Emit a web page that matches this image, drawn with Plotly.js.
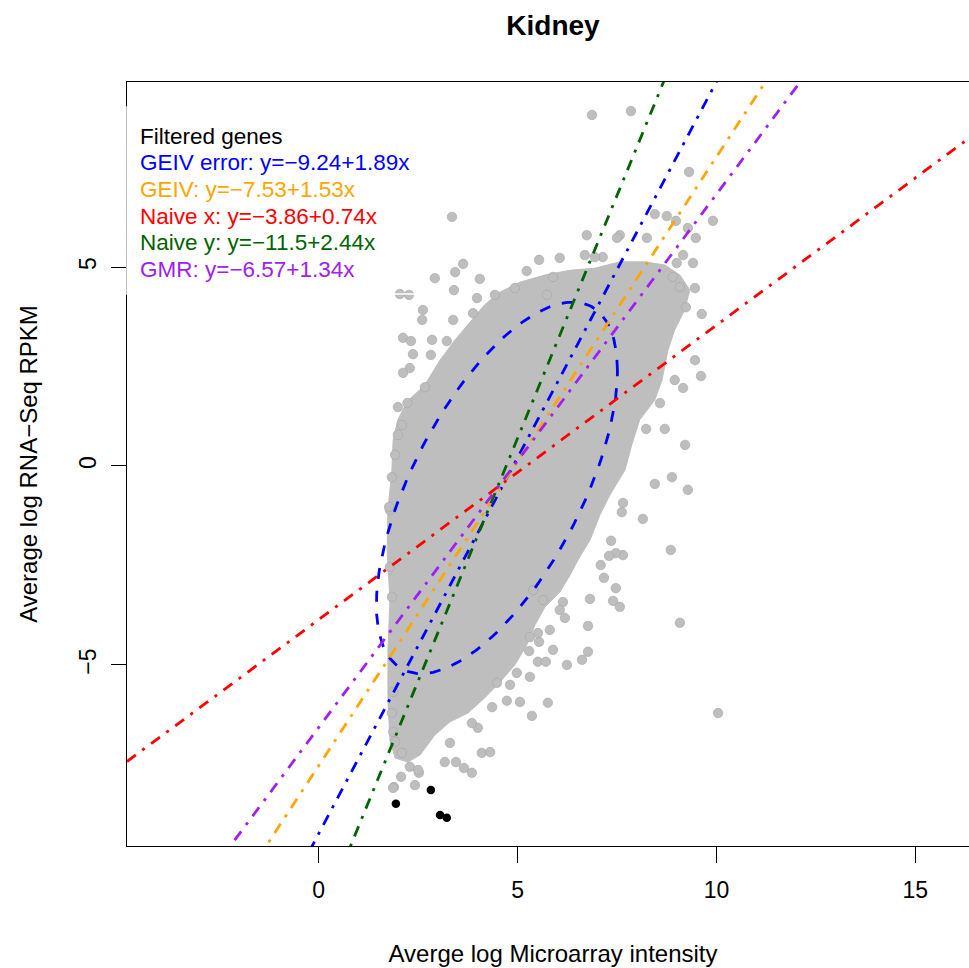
<!DOCTYPE html>
<html>
<head>
<meta charset="utf-8">
<script src="https://cdn.plot.ly/plotly-3.0.1.min.js"></script>
<style>
html,body{margin:0;padding:0;overflow:hidden;background:#fff;}
#chart{width:1000px;height:968px;}
</style>
</head>
<body>
<div id="chart"></div>
<script>
// ---- Data ----
const chartTitle = "Kidney";
const xTitle = "Averge log Microarray intensity";
const yTitle = "Average log RNA\u2212Seq RPKM";
const xTickVals = [0, 5, 10, 15];
const yTickVals = [-5, 0, 5];
const xRange = [-4.82, 16.6];
const yRange = [-9.55, 9.65];

// regression fits: y = intercept + slope * x
const legendHeader = "Filtered genes";
const fitNames = ["GEIV error", "GEIV", "Naive x", "Naive y", "GMR"];
const fitIntercepts = [-9.24, -7.53, -3.86, -11.5, -6.57];
const fitSlopes = [1.89, 1.53, 0.74, 2.44, 1.34];

// ellipse (blue dashed): centre, half-extents along x / y, correlation
const ellipseCenter = [4.48, -0.55];
const ellipseHalfX = 3.03;
const ellipseHalfY = 4.67;
const ellipseRho = 0.63;

// dense core of the gene cloud (outline)
const coreX = [2.67,3.05,3.43,3.80,4.17,4.56,5.06,5.69,6.32,6.94,7.57,8.20,8.70,9.08,9.33,9.20,8.95,8.78,8.63,8.45,8.07,7.87,7.70,7.32,7.07,6.82,6.52,6.32,6.06,5.69,5.44,5.23,4.93,4.56,4.17,3.75,3.30,2.92,2.55,2.24,1.92,1.79,1.74,1.74,1.79,1.72,1.74,1.84,1.87,1.99,2.24];
const coreY = [2.04,2.66,3.17,3.62,4.05,4.37,4.62,4.80,4.92,4.97,5.13,5.13,5.05,4.80,4.42,3.92,3.42,2.91,2.16,1.66,1.16,0.53,-0.10,-0.73,-1.23,-1.86,-2.36,-2.74,-3.17,-3.54,-3.99,-4.50,-5.00,-5.43,-5.83,-6.21,-6.43,-6.76,-7.26,-7.44,-7.34,-6.88,-5.88,-4.62,-3.37,-2.11,-1.11,-0.10,0.65,1.16,1.66];

// individual genes around the cloud (grey)
const geneX = [6.87,7.85,3.35,9.31,8.45,8.75,8.98,9.91,9.28,9.48,8.25,7.57,6.74,7.14,9.00,9.41,8.90,9.08,9.46,9.23,9.63,9.46,9.61,8.95,9.16,8.58,8.23,8.70,9.21,8.88,8.45,9.28,8.15,8.85,7.62,7.65,7.35,7.65,7.47,7.30,7.09,7.17,7.47,6.82,7.40,7.57,6.77,9.08,6.77,6.62,10.04,6.24,5.89,5.54,5.29,5.51,5.71,5.31,4.81,4.36,4.73,5.06,5.76,5.36,4.00,3.85,3.30,4.10,4.31,3.17,3.45,3.65,3.85,2.52,2.42,2.07,1.89,6.06,5.54,5.23,3.63,3.43,2.92,4.05,3.40,2.04,2.27,2.62,2.60,3.38,3.98,4.93,5.89,2.12,2.32,2.85,3.22,2.82,2.37,2.29,2.12,1.99,2.09,1.92,1.79,1.87,1.84,1.87,1.92,1.87,4.48,4.98,6.69,6.94,9.16,7.50,3.88,4.43,5.74,1.77,1.79,1.84,1.99,1.84,5.39,5.64,6.14,6.06,6.19,5.81,5.51,5.31,2.09,2.29,2.50,2.23,2.67];
const geneY = [8.82,8.92,6.26,7.39,6.33,6.28,6.16,6.16,5.98,5.73,5.73,5.80,5.80,5.25,5.10,5.10,4.75,4.50,4.47,3.99,3.82,2.66,2.26,2.16,1.96,1.58,0.93,0.93,0.53,-0.28,-0.45,-0.60,-1.33,-2.11,-1.16,-0.93,-1.88,-2.24,-2.19,-2.26,-2.49,-2.81,-3.07,-3.34,-3.39,-3.54,-4.02,-3.94,-4.67,-4.87,-6.21,-5.00,-4.62,-4.42,-4.65,-4.92,-4.92,-5.30,-5.50,-6.06,-5.90,-5.93,-5.95,-6.28,-6.58,-6.46,-6.96,-7.21,-7.19,-7.44,-7.44,-7.59,-7.71,-7.71,-8.02,-7.81,-8.07,5.23,5.18,4.90,5.08,4.87,4.72,4.70,4.42,4.32,4.30,3.92,3.67,3.67,4.22,4.47,4.75,3.22,3.14,3.17,3.14,2.79,2.81,2.46,2.34,1.48,1.03,0.28,-1.11,-5.68,-6.21,-6.68,-6.93,-8.09,-5.45,-5.20,5.30,5.25,5.30,5.73,3.84,4.30,4.30,-1.03,-2.54,-3.29,0.78,-0.28,-3.12,-3.37,-3.42,-3.62,-3.82,-4.12,-4.20,-4.30,-7.21,-7.56,-7.64,1.58,1.98];

// highlighted genes (black)
const blackX = [1.94, 2.82, 3.05, 3.22];
const blackY = [-8.49, -8.14, -8.77, -8.84];

// ---- Styles ----
const fitColors = ["#0000FF", "#FFA500", "#FF0000", "#006400", "#A020F0"];
const FONT = "Liberation Sans, Arial, Helvetica, sans-serif";
const dotDash = "11px,8px,3px,8px";

const traces = [];
traces.push({
  x: coreX, y: coreY, type: "scatter", mode: "lines", fill: "toself",
  fillcolor: "#BEBEBE", line: {color: "#BEBEBE", width: 1},
  hoverinfo: "skip", showlegend: false
});
traces.push({
  x: geneX, y: geneY, type: "scatter", mode: "markers",
  marker: {size: 9.5, color: "#BEBEBE", line: {color: "#A4A4A4", width: 0.6}},
  showlegend: false
});
// ellipse
const ex = [], ey = [];
for (let i = 0; i <= 180; i++) {
  const t = 2 * Math.PI * i / 180;
  ex.push(ellipseCenter[0] + ellipseHalfX * Math.cos(t));
  ey.push(ellipseCenter[1] + ellipseHalfY * (ellipseRho * Math.cos(t) + Math.sqrt(1 - ellipseRho * ellipseRho) * Math.sin(t)));
}
traces.push({
  x: ex, y: ey, type: "scatter", mode: "lines",
  line: {color: "#0000FF", width: 2.8, dash: "11px,12px"},
  showlegend: false, hoverinfo: "skip"
});
// fit lines
for (let i = 0; i < fitNames.length; i++) {
  traces.push({
    x: [xRange[0], xRange[1]],
    y: [fitIntercepts[i] + fitSlopes[i] * xRange[0], fitIntercepts[i] + fitSlopes[i] * xRange[1]],
    type: "scatter", mode: "lines", name: fitNames[i],
    line: {color: fitColors[i], width: 2.8, dash: dotDash},
    showlegend: false
  });
}
traces.push({
  x: blackX, y: blackY, type: "scatter", mode: "markers",
  marker: {size: 8.5, color: "#000000"}, showlegend: false
});

// text legend
const fmt = v => String(v).replace("-", "\u2212");
const legendLines = [{text: legendHeader, color: "#000000"}];
for (let i = 0; i < fitNames.length; i++) {
  legendLines.push({text: fitNames[i] + ": y=" + fmt(fitIntercepts[i]) + "+" + fmt(fitSlopes[i]) + "x", color: fitColors[i]});
}
const plotTop = 82, plotH = 764, plotL = 127, plotW = 852;
const annotations = legendLines.map((l, i) => ({
  xref: "paper", yref: "paper",
  x: (138 - plotL) / plotW, y: (plotTop + plotH - (136 + 26.7 * i)) / plotH,
  xanchor: "left", yanchor: "middle", showarrow: false,
  text: l.text, font: {family: FONT, size: 22.5, color: l.color}
}));

const layout = {
  width: 1000, height: 968,
  margin: {l: plotL, r: 1000 - plotL - plotW, t: plotTop, b: 968 - plotTop - plotH},
  paper_bgcolor: "#fff", plot_bgcolor: "#fff",
  font: {family: FONT, color: "#000"},
  title: {text: "<b>" + chartTitle + "</b>", font: {family: FONT, size: 28, color: "#000"},
          x: 0.5, xref: "paper", xanchor: "center", y: 1 - 25 / 968, yref: "container", yanchor: "middle"},
  xaxis: {
    range: xRange, tickvals: xTickVals, ticktext: xTickVals.map(fmt),
    ticks: "outside", ticklen: 16, tickwidth: 1, tickcolor: "#000",
    showline: true, mirror: true, linecolor: "#000", linewidth: 1,
    showgrid: false, zeroline: false, tickfont: {family: FONT, size: 23},
    ticklabelstandoff: 7,
    title: {text: xTitle, font: {family: FONT, size: 24}, standoff: 43}
  },
  yaxis: {
    range: yRange, tickvals: yTickVals, ticktext: yTickVals.map(fmt),
    ticks: "outside", ticklen: 15, tickwidth: 1, tickcolor: "#000", tickangle: -90,
    showline: true, mirror: true, linecolor: "#000", linewidth: 1,
    showgrid: false, zeroline: false, tickfont: {family: FONT, size: 23},
    ticklabelstandoff: 6,
    title: {text: yTitle, font: {family: FONT, size: 24}, standoff: 30}
  },
  shapes: [{
    type: "rect", xref: "paper", yref: "paper", layer: "above",
    x0: 0, x1: (420 - plotL) / plotW,
    y0: (plotTop + plotH - 294) / plotH, y1: (plotTop + plotH - 107) / plotH,
    line: {color: "#FFFFFF", width: 1.5}, fillcolor: "rgba(0,0,0,0)"
  }],
  annotations: annotations,
  showlegend: false
};

Plotly.newPlot("chart", traces, layout, {displayModeBar: false, staticPlot: true});
</script>
</body>
</html>
